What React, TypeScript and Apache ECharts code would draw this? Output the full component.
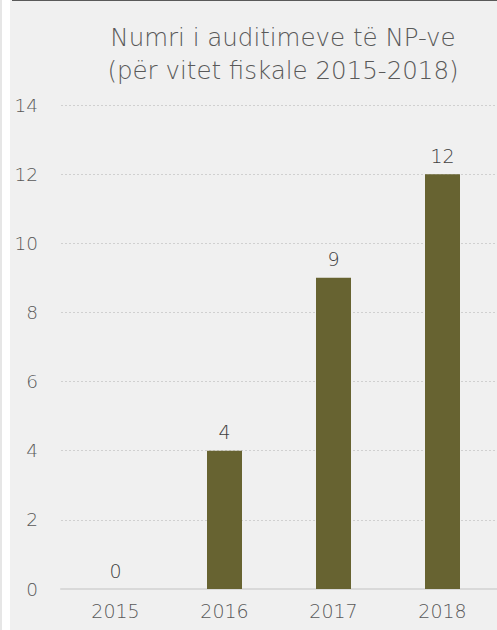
import React, { useEffect, useRef } from "react";
import * as echarts from "echarts";

const titleLines = ["Numri i auditimeve të NP-ve", "(për vitet fiskale 2015-2018)"];
const years = ["2015", "2016", "2017", "2018"];
const audits = [0, 4, 9, 12];
const yTicks = [0, 2, 4, 6, 8, 10, 12, 14];

const FONT = "'DejaVu Sans', sans-serif";

export default function App() {
  const ref = useRef<HTMLDivElement>(null);
  useEffect(() => {
    if (!ref.current) return;
    const chart = echarts.init(ref.current, null, { renderer: "svg" });
    chart.setOption({
      animation: false,
      backgroundColor: "#f0f0f0",
      title: {
        text: titleLines.join("\n"),
        left: 278,
        textAlign: "center",
        top: 16,
        textStyle: {
          fontFamily: FONT,
          fontSize: 24.5,
          fontWeight: 300,
          color: "#595959",
          lineHeight: 33,
        },
      },
      graphic: [
        { type: "rect", left: 0, top: 0, shape: { width: 2, height: 630 }, style: { fill: "#e6e6e6" } },
        { type: "rect", left: 2, top: 0, shape: { width: 8, height: 630 }, style: { fill: "#ffffff" } },
        { type: "rect", left: 12, top: 0, shape: { width: 485, height: 1 }, style: { fill: "#595959" } },
      ],
      grid: { left: 61, right: -2, top: 105, bottom: 41, containLabel: false },
      xAxis: {
        type: "category",
        data: years,
        axisTick: { show: false },
        axisLine: { show: true, lineStyle: { color: "#d9d9d9", width: 2 } },
        axisLabel: { color: "#595959", fontSize: 19, fontWeight: 300, fontFamily: FONT, margin: 12 },
      },
      yAxis: {
        type: "value",
        min: 0,
        max: yTicks[yTicks.length - 1],
        interval: 2,
        axisLine: { show: false },
        axisTick: { show: false },
        axisLabel: { color: "#595959", fontSize: 18.5, fontWeight: 300, fontFamily: FONT, margin: 23 },
        splitLine: { lineStyle: { color: "#d0d0d0", type: [2, 2], width: 1 } },
      },
      series: [
        {
          type: "bar",
          data: audits,
          barWidth: 35,
          itemStyle: { color: "#676331" },
          label: {
            show: true,
            position: "top",
            distance: 9,
            color: "#404040",
            fontSize: 19,
            fontWeight: 300,
            fontFamily: FONT,
          },
        },
      ],
    });
    return () => chart.dispose();
  }, []);
  return (
    <div
      ref={ref}
      style={{ position: "fixed", left: 0, top: 0, width: 497, height: 630 }}
    />
  );
}
